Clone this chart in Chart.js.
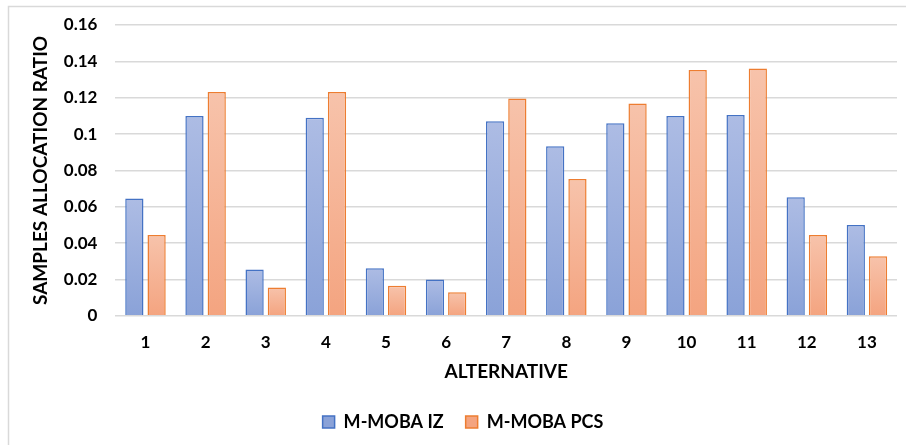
<!DOCTYPE html>
<html>
<head>
<meta charset="utf-8">
<script src="https://cdn.jsdelivr.net/npm/chart.js@4/dist/chart.umd.min.js"></script>
<style>
  html, body { margin: 0; padding: 0; background: #fff; }
  #wrap { width: 906px; height: 445px; position: relative; }
</style>
</head>
<body>
<div id="wrap"><canvas id="allocChart"></canvas></div>
<script>
const alternatives = ['1', '2', '3', '4', '5', '6', '7', '8', '9', '10', '11', '12', '13'];
const mobaIZ  = [0.0645, 0.110, 0.0255, 0.109, 0.0262, 0.0200, 0.107, 0.0933, 0.106, 0.110, 0.1105, 0.0652, 0.0500];
const mobaPCS = [0.0445, 0.1232, 0.0156, 0.1232, 0.0165, 0.0130, 0.1196, 0.0752, 0.1168, 0.1352, 0.1360, 0.0445, 0.0328];
const yTicks = [0, 0.02, 0.04, 0.06, 0.08, 0.1, 0.12, 0.14, 0.16];

const FONT = 'Lato, "Open Sans", sans-serif';

// per-bar vertical gradient, light at the top, darker at the base
function barGradient(top, bottom) {
  return function (c) {
    const chart = c.chart;
    if (!chart.chartArea || c.parsed == null) return bottom;
    const y = chart.scales.y;
    const y0 = y.getPixelForValue(c.parsed.y);
    const y1 = y.getPixelForValue(0);
    if (!isFinite(y0) || !isFinite(y1) || y0 === y1) return bottom;
    const g = chart.ctx.createLinearGradient(0, y0, 0, y1);
    g.addColorStop(0, top);
    g.addColorStop(1, bottom);
    return g;
  };
}

const frame = {
  id: 'frame',
  beforeDraw(chart) {
    const ctx = chart.ctx;
    ctx.save();
    ctx.fillStyle = '#fff';
    ctx.fillRect(0, 0, chart.width, chart.height);
    ctx.strokeStyle = '#d9d9d9';
    ctx.lineWidth = 1.5;
    ctx.beginPath();
    ctx.moveTo(8.5, chart.height);
    ctx.lineTo(8.5, 6.5);
    ctx.lineTo(chart.width, 6.5);
    ctx.stroke();
    ctx.restore();
  }
};

const ctx = document.getElementById('allocChart').getContext('2d');
const chart = new Chart(ctx, {
  type: 'bar',
  data: {
    labels: alternatives,
    datasets: [{
      label: 'M-MOBA IZ',
      data: mobaIZ,
      backgroundColor: barGradient('#adbce4', '#8aa2d8'),
      borderColor: '#4472c4',
      borderWidth: 1.5,
      categoryPercentage: 0.74,
      barPercentage: 0.82
    }, {
      label: 'M-MOBA PCS',
      data: mobaPCS,
      backgroundColor: barGradient('#f7c3ab', '#f4a480'),
      borderColor: '#ed7d31',
      borderWidth: 1.5,
      categoryPercentage: 0.74,
      barPercentage: 0.82
    }]
  },
  options: {
    responsive: true,
    maintainAspectRatio: false,
    animation: false,
    layout: { padding: { top: 0, right: 9, left: 29, bottom: 4 } },
    plugins: {
      tooltip: { enabled: false },
      legend: {
        position: 'bottom',
        labels: {
          boxWidth: 12,
          boxHeight: 12,
          padding: 22,
          color: '#000',
          font: { family: FONT, size: 18, weight: 'bold' }
        }
      }
    },
    scales: {
      x: {
        grid: { display: false, drawTicks: false },
        border: { display: false },
        ticks: {
          color: '#000',
          padding: 17,
          font: { family: FONT, size: 17, weight: 'bold' }
        },
        title: {
          display: true,
          text: 'ALTERNATIVE',
          color: '#000',
          padding: { top: -10, bottom: 8 },
          font: { family: FONT, size: 19, weight: 'bold' }
        }
      },
      y: {
        min: 0,
        max: 0.16,
        afterBuildTicks(axis) {
          axis.ticks = yTicks.map(v => ({ value: v }));
        },
        afterFit(axis) {
          axis.paddingTop = 25;
        },
        grid: { color: '#d9d9d9', lineWidth: 1.5, drawTicks: false },
        border: { display: false },
        ticks: {
          color: '#000',
          padding: 18,
          font: { family: FONT, size: 17, weight: 'bold' },
          callback: v => String(+v.toFixed(2))
        },
        title: {
          display: true,
          text: 'SAMPLES ALLOCATION RATIO',
          color: '#000',
          padding: { top: 0, bottom: -6 },
          font: { family: FONT, size: 19, weight: 'bold' }
        }
      }
    }
  },
  plugins: [frame]
});
</script>
</body>
</html>
